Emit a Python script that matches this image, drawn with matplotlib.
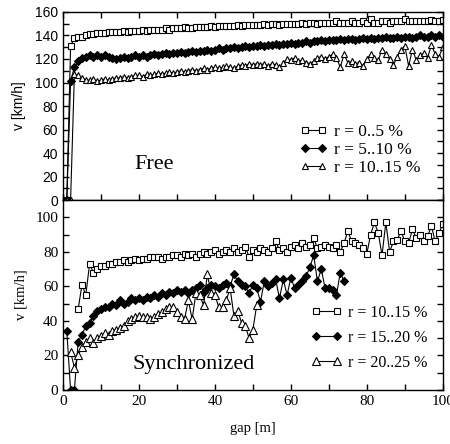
import matplotlib
matplotlib.use("Agg")
import matplotlib.pyplot as plt
from matplotlib.ticker import MultipleLocator

SERIF = "Liberation Serif"
SANS = "Liberation Sans"

# ---------------- Free phase (upper panel) ----------------
free_gap = list(range(1, 101))
free_r0_5 = [0, 131, 138, 139, 139, 140, 141, 141, 142, 142,
             142, 143, 143, 143, 143, 144, 143, 144, 144, 144,
             145, 144, 145, 145, 145, 145, 146, 145, 146, 146,
             146, 147, 146, 146, 147, 147, 147, 147, 148, 147,
             148, 148, 148, 148, 148, 149, 148, 149, 149, 149,
             149, 149, 150, 149, 150, 150, 149, 150, 150, 150,
             150, 150, 151, 150, 151, 151, 150, 151, 151, 151,
             151, 152, 151, 151, 151, 152, 151, 151, 152, 151,
             154, 151, 151, 152, 152, 151, 152, 152, 152, 154,
             152, 152, 152, 152, 152, 152, 153, 152, 152, 153]
free_r5_10 = [0, 101, 113, 118, 121, 122, 123, 122, 123, 122,
              123, 122, 121, 120, 121, 122, 121, 122, 123, 122,
              123, 122, 123, 124, 123, 124, 125, 124, 125, 125,
              126, 125, 126, 127, 126, 127, 127, 128, 127, 128,
              129, 128, 129, 129, 130, 129, 130, 131, 130, 131,
              131, 132, 131, 132, 132, 133, 132, 133, 133, 134,
              133, 134, 134, 135, 134, 135, 135, 136, 135, 136,
              136, 136, 137, 136, 137, 137, 136, 137, 138, 137,
              138, 137, 138, 138, 139, 138, 138, 139, 138, 139,
              139, 138, 139, 140, 139, 139, 140, 139, 140, 139]
free_r10_15 = [0, 0, 107, 106, 104, 102, 102, 103, 101, 102,
               103, 102, 103, 104, 104, 105, 104, 105, 106, 106,
               105, 107, 106, 107, 108, 107, 108, 109, 108, 109,
               110, 109, 110, 111, 110, 111, 112, 111, 112, 113,
               112, 113, 114, 113, 112, 114, 115, 114, 116, 115,
               116, 115, 116, 114, 116, 115, 113, 117, 120, 119,
               121, 118, 119, 117, 116, 118, 121, 122, 120, 122,
               124, 121, 113, 124, 117, 118, 116, 117, 114, 120,
               124, 121, 119, 128, 124, 120, 115, 122, 128, 131,
               114, 128, 119, 123, 125, 121, 132, 124, 122, 130]

# ---------------- Synchronized phase (lower panel) ----------------
syn_gap_a = list(range(4, 101))
syn_r10_15 = [47, 61, 55, 73, 68, 70, 72, 72, 73, 73,
              74, 74, 75, 74, 75, 76, 75, 76, 76, 77,
              77, 77, 76, 77, 77, 78, 78, 77, 79, 78,
              79, 77, 79, 80, 79, 80, 81, 79, 80, 81,
              80, 82, 80, 81, 83, 77, 81, 80, 82, 81,
              80, 82, 86, 81, 82, 80, 83, 84, 82, 85,
              83, 84, 88, 82, 83, 84, 83, 82, 84, 80,
              85, 92, 86, 85, 84, 82, 79, 90, 97, 91,
              78, 97, 80, 86, 87, 92, 86, 85, 93, 88,
              90, 86, 89, 95, 86, 91, 96]
syn_gap_b = list(range(1, 75))
syn_r15_20 = [34, 0, 0, 28, 32, 37, 39, 43, 46, 47,
              48, 48, 50, 49, 52, 50, 51, 53, 52, 53,
              52, 54, 53, 55, 54, 56, 55, 57, 56, 58,
              57, 58, 56, 58, 59, 61, 57, 59, 61, 60,
              59, 61, 62, 60, 67, 63, 61, 60, 56, 61,
              59, 51, 63, 60, 62, 64, 53, 64, 55, 65,
              59, 61, 63, 66, 71, 78, 63, 70, 59, 59,
              58, 55, 68, 63]
syn_gap_c = list(range(2, 52))
syn_r20_25 = [22, 13, 20, 25, 28, 30, 27, 30, 31, 33,
              32, 34, 35, 36, 37, 40, 41, 42, 43, 42,
              42, 41, 42, 44, 45, 47, 48, 48, 45, 42,
              41, 52, 41, 56, 55, 49, 67, 56, 55, 48,
              48, 52, 59, 43, 46, 39, 37, 30, 35, 49]

free_labels = ["r = 0..5 %", "r = 5..10 %", "r = 10..15 %"]
syn_labels = ["r = 10..15 %", "r = 15..20 %", "r = 20..25 %"]
x_ticks = [0, 20, 40, 60, 80, 100]

fig = plt.figure(figsize=(4.5, 4.44), dpi=100)
ax1 = fig.add_axes([0.14, 0.5495, 0.844, 0.4235])
ax2 = fig.add_axes([0.14, 0.1216, 0.844, 0.4279])

lw = 0.8
def series(ax, x, y, marker, face, ms, label):
    ax.plot(x, y, color="black", lw=lw, marker=marker, markersize=ms,
            markerfacecolor=face, markeredgecolor="black",
            markeredgewidth=0.8, label=label)

series(ax1, free_gap, free_r0_5, "s", "white", 4.3, free_labels[0])
series(ax1, free_gap, free_r5_10, "D", "black", 3.8, free_labels[1])
series(ax1, free_gap, free_r10_15, "^", "white", 5.0, free_labels[2])

series(ax2, syn_gap_a, syn_r10_15, "s", "white", 5.0, syn_labels[0])
series(ax2, syn_gap_b, syn_r15_20, "D", "black", 4.3, syn_labels[1])
series(ax2, syn_gap_c, syn_r20_25, "^", "white", 5.5, syn_labels[2])

for ax in (ax1, ax2):
    ax.set_xlim(0, 100)
    for s in ax.spines.values():
        s.set_linewidth(1.0)
    ax.xaxis.set_major_locator(MultipleLocator(20))
    ax.xaxis.set_minor_locator(MultipleLocator(10))
    ax.yaxis.set_major_locator(MultipleLocator(20))
    ax.yaxis.set_minor_locator(MultipleLocator(10))
    ax.tick_params(which="both", direction="in", length=4, width=1)

ax1.set_ylim(0, 160)
ax1.tick_params(which="both", top=True, right=True, bottom=True, labelbottom=False)
for t in ax1.get_yticklabels():
    t.set_family(SANS)
    t.set_fontsize(10)
ax1.set_ylabel("v [km/h]", family=SANS, fontsize=10)
ax1.yaxis.set_label_coords(-0.097, 0.5)
ax1.text(24, 30, "Free", family=SERIF, fontsize=16, ha="center", va="center")
leg1 = ax1.legend(loc="lower right", bbox_to_anchor=(0.965, 0.08), frameon=False,
                  prop={"family": SERIF, "size": 12.5}, handlelength=1.6,
                  handletextpad=0.4, labelspacing=0.12, borderpad=0, numpoints=2)

ax2.set_ylim(0, 110)
ax2.tick_params(which="both", top=False, right=True)
ax2.set_xticks(x_ticks)
for t in ax2.get_yticklabels() + ax2.get_xticklabels():
    t.set_family(SERIF)
    t.set_fontsize(11)
ax2.set_ylabel("v [km/h]", family=SERIF, fontsize=10.5)
ax2.yaxis.set_label_coords(-0.093, 0.5)
ax2.set_xlabel("gap [m]", family=SERIF, fontsize=10.5, labelpad=10)
ax2.text(34.3, 15, "Synchronized", family=SERIF, fontsize=16, ha="center", va="center")
leg2 = ax2.legend(loc="lower right", bbox_to_anchor=(0.98, 0.06), frameon=False,
                  prop={"family": SERIF, "size": 11.5}, handlelength=1.9,
                  handletextpad=0.4, labelspacing=0.55, borderpad=0, numpoints=2)

fig.savefig("out.png", dpi=100)
